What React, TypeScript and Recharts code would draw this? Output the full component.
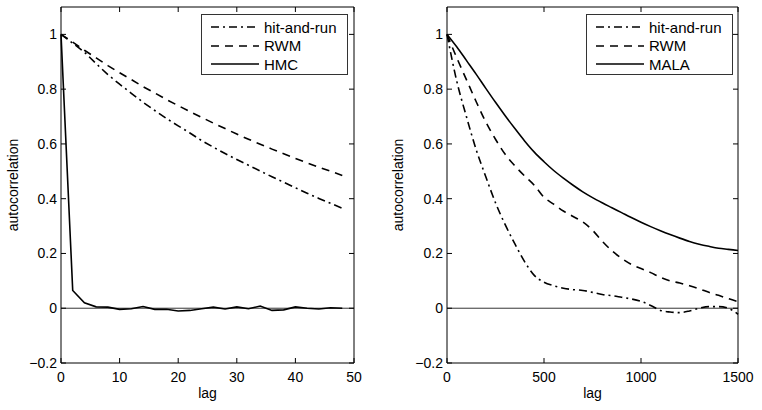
import React from "react";
import { LineChart, Line, XAxis, YAxis, ReferenceLine } from "recharts";

const leftLags = [0, 2, 4, 6, 8, 10, 12, 14, 16, 18, 20, 22, 24, 26, 28, 30, 32, 34, 36, 38, 40, 42, 44, 46, 48];
const leftHitAndRun = [1.0, 0.968, 0.935, 0.893, 0.853, 0.818, 0.785, 0.752, 0.722, 0.693, 0.666, 0.64, 0.612, 0.588, 0.565, 0.543, 0.522, 0.501, 0.48, 0.46, 0.44, 0.42, 0.401, 0.383, 0.365];
const leftRwm = [1.0, 0.972, 0.942, 0.914, 0.886, 0.86, 0.835, 0.809, 0.786, 0.762, 0.74, 0.718, 0.697, 0.676, 0.656, 0.636, 0.617, 0.599, 0.581, 0.564, 0.547, 0.531, 0.515, 0.5, 0.485];
const leftHmc = [1.0, 0.065, 0.02, 0.005, 0.004, -0.004, -0.002, 0.006, -0.004, -0.004, -0.01, -0.008, -0.002, 0.004, -0.003, 0.005, -0.002, 0.008, -0.008, -0.006, 0.005, 0.0, -0.003, 0.002, 0.0];

const rightLags = [0, 50, 100, 150, 200, 250, 300, 350, 400, 450, 500, 550, 600, 650, 700, 750, 800, 850, 900, 950, 1000, 1050, 1100, 1150, 1200, 1250, 1300, 1350, 1400, 1450, 1500];
const rightHitAndRun = [1.0, 0.83, 0.7, 0.58, 0.48, 0.385, 0.305, 0.235, 0.17, 0.12, 0.095, 0.082, 0.073, 0.068, 0.065, 0.058, 0.05, 0.046, 0.04, 0.034, 0.025, 0.01, -0.008, -0.014, -0.016, -0.01, 0.0, 0.006, 0.006, 0.0, -0.022];
const rightRwm = [1.0, 0.915, 0.835, 0.755, 0.68, 0.617, 0.562, 0.52, 0.483, 0.449, 0.405, 0.38, 0.355, 0.335, 0.315, 0.285, 0.245, 0.21, 0.182, 0.16, 0.145, 0.13, 0.113, 0.1, 0.092, 0.082, 0.071, 0.058, 0.047, 0.035, 0.024];
const rightMala = [1.0, 0.955, 0.905, 0.855, 0.803, 0.752, 0.703, 0.656, 0.611, 0.57, 0.535, 0.503, 0.475, 0.449, 0.425, 0.404, 0.385, 0.367, 0.349, 0.331, 0.314, 0.298, 0.283, 0.269, 0.256, 0.244, 0.234, 0.226, 0.219, 0.215, 0.211];

const leftXTicks = [0, 10, 20, 30, 40, 50];
const rightXTicks = [0, 500, 1000, 1500];
const yTicks = [-0.2, 0, 0.2, 0.4, 0.6, 0.8, 1];

const FONT = "'Liberation Sans', Arial, Helvetica, sans-serif";
const DASH = "8 6";
const DASHDOT = "8 4 2 4";
const TOP = 7;
const BOTTOM = 363;
const H = 410;

type Series = { name: string; values: number[]; dash?: string };

function Panel(props: {
  width: number;
  left: number;
  right: number;
  lags: number[];
  xMax: number;
  xTicks: number[];
  series: Series[];
  yLabelX: number;
  legendX: number;
}) {
  const { width, left, right, lags, xMax, xTicks, series, yLabelX, legendX } = props;
  const L = left;
  const R = width - right;
  const rows = lags.map((lag, i) => {
    const row: Record<string, number> = { lag };
    series.forEach((s) => (row[s.name] = s.values[i]));
    return row;
  });

  const yTick = (p: any) => {
    const v = p.payload.value as number;
    const label = v < 0 ? "\u2212" + Math.abs(v) : String(v);
    return (
      <g>
        <line x1={L} x2={L + 5} y1={p.y} y2={p.y} stroke="#000" />
        <line x1={R - 5} x2={R} y1={p.y} y2={p.y} stroke="#000" />
        <text x={L - 4} y={p.y} textAnchor="end" dominantBaseline="central" fontSize={14} fontFamily={FONT} fill="#000">
          {label}
        </text>
      </g>
    );
  };

  const xTick = (p: any) => (
    <g>
      <line x1={p.x} x2={p.x} y1={BOTTOM} y2={BOTTOM - 5} stroke="#000" />
      <line x1={p.x} x2={p.x} y1={TOP} y2={TOP + 5} stroke="#000" />
      <text x={p.x} y={BOTTOM + 19} textAnchor="middle" fontSize={14} fontFamily={FONT} fill="#000">
        {p.payload.value}
      </text>
    </g>
  );

  return (
    <div style={{ position: "relative", width, height: H }}>
      <LineChart width={width} height={H} data={rows} margin={{ top: TOP, right, bottom: 0, left: 0 }}>
        <XAxis
          dataKey="lag"
          type="number"
          domain={[0, xMax]}
          ticks={xTicks}
          tickSize={0}
          tick={xTick}
          height={H - BOTTOM - TOP + TOP}
          stroke="#000"
          label={{
            content: () => (
              <text x={(L + R) / 2} y={398} textAnchor="middle" fontSize={14} fontFamily={FONT} fill="#000">
                lag
              </text>
            ),
          }}
        />
        <YAxis
          type="number"
          domain={[-0.2, 1.1]}
          ticks={yTicks}
          tickSize={0}
          tick={yTick}
          width={left}
          stroke="#000"
          label={{
            content: () => (
              <text
                x={yLabelX}
                y={(TOP + BOTTOM) / 2}
                transform={`rotate(-90 ${yLabelX} ${(TOP + BOTTOM) / 2})`}
                textAnchor="middle"
                dominantBaseline="central"
                fontSize={14}
                fontFamily={FONT}
                fill="#000"
              >
                autocorrelation
              </text>
            ),
          }}
        />
        <ReferenceLine y={0} stroke="#000" strokeWidth={0.8} />
        <ReferenceLine y={1.1} stroke="#000" />
        <ReferenceLine x={xMax} stroke="#000" />
        {series.map((s) => (
          <Line
            key={s.name}
            dataKey={s.name}
            type={xMax > 100 ? "monotone" : "linear"}
            stroke="#000"
            strokeWidth={1.6}
            strokeDasharray={s.dash}
            dot={false}
            isAnimationActive={false}
          />
        ))}
      </LineChart>
      <div
        style={{
          position: "absolute",
          left: legendX,
          top: 14,
          width: 145,
          height: 59,
          border: "1px solid #333",
          background: "#fff",
          fontFamily: FONT,
          fontSize: 15,
        }}
      >
        {series.map((s, i) => (
          <div key={s.name} style={{ position: "absolute", left: 8, top: 3 + i * 18.5, height: 18, display: "flex", alignItems: "center" }}>
            <svg width={50} height={18}>
              <line x1={1} x2={49} y1={9} y2={9} stroke="#000" strokeWidth={1.6} strokeDasharray={s.dash} />
            </svg>
            <span style={{ marginLeft: 4, whiteSpace: "nowrap" }}>{s.name}</span>
          </div>
        ))}
      </div>
    </div>
  );
}

export default function App() {
  return (
    <div style={{ position: "absolute", left: 0, top: 0, width: 762, height: H, background: "#fff", display: "flex" }}>
      <Panel
        width={380}
        left={61}
        right={26}
        lags={leftLags}
        xMax={50}
        xTicks={leftXTicks}
        yLabelX={13}
        legendX={201}
        series={[
          { name: "hit-and-run", values: leftHitAndRun, dash: DASHDOT },
          { name: "RWM", values: leftRwm, dash: DASH },
          { name: "HMC", values: leftHmc },
        ]}
      />
      <Panel
        width={382}
        left={67}
        right={24}
        lags={rightLags}
        xMax={1500}
        xTicks={rightXTicks}
        yLabelX={18}
        legendX={206}
        series={[
          { name: "hit-and-run", values: rightHitAndRun, dash: DASHDOT },
          { name: "RWM", values: rightRwm, dash: DASH },
          { name: "MALA", values: rightMala },
        ]}
      />
    </div>
  );
}
